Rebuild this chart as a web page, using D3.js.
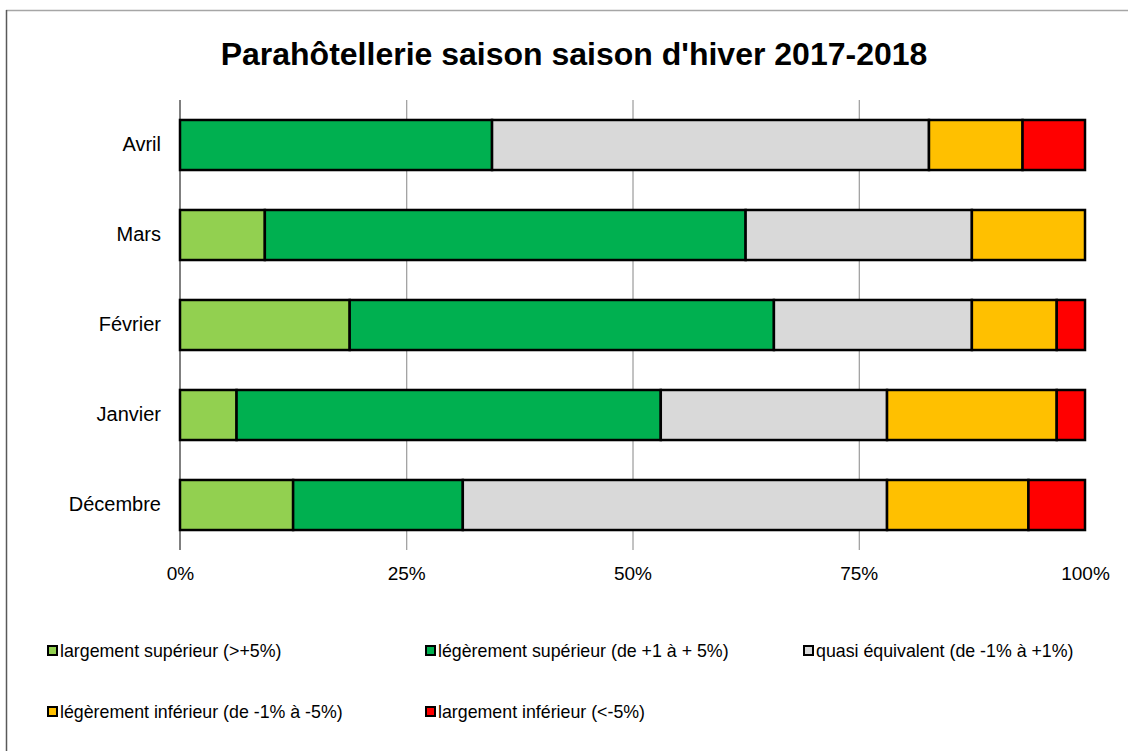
<html>
  <head>
    <meta charset="utf-8" />
    <title>Parahotellerie saison d'hiver 2017-2018</title>
    <script src="https://d3js.org/d3.v7.min.js"></script>
    <style type="text/css">
      body { margin: 0; background: white; }
      text { font-family: "Liberation Sans", Arial, sans-serif; }
    </style>
  </head>
  <body>
    <div id="chart"></div>
    <script type="text/javascript">
      // data, in percent, bottom to top as in the picture
      var months = ["Décembre", "Janvier", "Février", "Mars", "Avril"];
      var largementSup = [12.5, 6.25, 18.75, 9.375, 0];
      var legerementSup = [18.75, 46.875, 46.875, 53.125, 34.48];
      var quasiEquiv = [46.875, 25, 21.875, 25, 48.28];
      var legerementInf = [15.625, 18.75, 9.375, 12.5, 10.34];
      var largementInf = [6.25, 3.125, 3.125, 0, 6.9];
      var seriesNames = ["largement supérieur (>+5%)", "légèrement supérieur (de +1 à + 5%)",
                         "quasi équivalent (de -1% à +1%)", "légèrement inférieur (de -1% à -5%)",
                         "largement inférieur (<-5%)"];
      var seriesColors = ["#92d050", "#00b050", "#d9d9d9", "#ffc000", "#ff0000"];
      var tickValues = [0, 25, 50, 75, 100];

      var width = 1128, height = 751;
      var svg = d3.select("#chart").append("svg")
          .attr("width", width)
          .attr("height", height);

      // frame of the chart area (cropped)
      svg.append("line").attr("x1", 6).attr("x2", width).attr("y1", 10.5).attr("y2", 10.5)
          .style("stroke", "#a6a6a6").style("stroke-width", 1.5);
      svg.append("line").attr("x1", 6.5).attr("x2", 6.5).attr("y1", 10).attr("y2", height)
          .style("stroke", "#595959").style("stroke-width", 1.5);

      svg.append("text")
          .attr("x", 574).attr("y", 65)
          .attr("text-anchor", "middle")
          .style("font-size", "32px").style("font-weight", "bold")
          .text("Parahôtellerie saison saison d'hiver 2017-2018");

      var x = d3.scaleLinear().domain([0, 100]).range([180, 1085]);
      var y = d3.scaleBand().domain(months.slice().reverse()).range([100, 550]).paddingInner(0.444).paddingOuter(0.222);

      // gridlines
      svg.append("g").selectAll("line")
          .data(tickValues.slice(1, 4))
          .enter().append("line")
          .attr("x1", function(d) { return x(d) + 0.5; })
          .attr("x2", function(d) { return x(d) + 0.5; })
          .attr("y1", 100).attr("y2", 550)
          .style("stroke", "#868686").style("stroke-width", 1);
      svg.append("line").attr("x1", 180).attr("x2", 180).attr("y1", 100).attr("y2", 550)
          .style("stroke", "black").style("stroke-width", 1);

      var stack = [];
      months.forEach(function(m, i) {
        var vals = [largementSup[i], legerementSup[i], quasiEquiv[i], legerementInf[i], largementInf[i]];
        var acc = 0;
        vals.forEach(function(v, k) {
          if (v > 0) stack.push({ month: m, k: k, x0: acc, x1: acc + v });
          acc += v;
        });
      });

      svg.append("g").selectAll("rect")
          .data(stack)
          .enter().append("rect")
          .attr("x", function(d) { return x(d.x0); })
          .attr("width", function(d) { return x(d.x1) - x(d.x0); })
          .attr("y", function(d) { return y(d.month); })
          .attr("height", y.bandwidth())
          .style("fill", function(d) { return seriesColors[d.k]; })
          .style("stroke", "black").style("stroke-width", 2.5);

      // axes
      var xAxis = svg.append("g")
          .attr("transform", "translate(0,550)")
          .call(d3.axisBottom(x).tickValues(tickValues).tickSize(0).tickPadding(17)
                .tickFormat(function(d) { return d + "%"; }));
      xAxis.select(".domain").remove();
      xAxis.selectAll("text").style("font-size", "19px").style("fill", "black")
          .style("font-family", "'Liberation Sans', Arial, sans-serif");

      var yAxis = svg.append("g")
          .attr("transform", "translate(180,0)")
          .call(d3.axisLeft(y).tickSize(0).tickPadding(19));
      yAxis.select(".domain").remove();
      yAxis.selectAll("text").style("font-size", "20px").style("fill", "black")
          .style("font-family", "'Liberation Sans', Arial, sans-serif");

      // legend
      var legendPos = [[48, 651], [426, 651], [804, 651], [48, 712], [426, 712]];
      var legend = svg.append("g").selectAll("g")
          .data(seriesNames)
          .enter().append("g")
          .attr("transform", function(d, i) { return "translate(" + legendPos[i][0] + "," + legendPos[i][1] + ")"; });
      legend.append("rect")
          .attr("x", 0).attr("y", -5).attr("width", 9).attr("height", 9)
          .style("fill", function(d, i) { return seriesColors[i]; })
          .style("stroke", "black").style("stroke-width", 2);
      legend.append("text")
          .attr("x", 12).attr("y", 0).attr("dy", "0.35em")
          .style("font-size", "17.8px")
          .text(function(d) { return d; });
    </script>
  </body>
</html>
